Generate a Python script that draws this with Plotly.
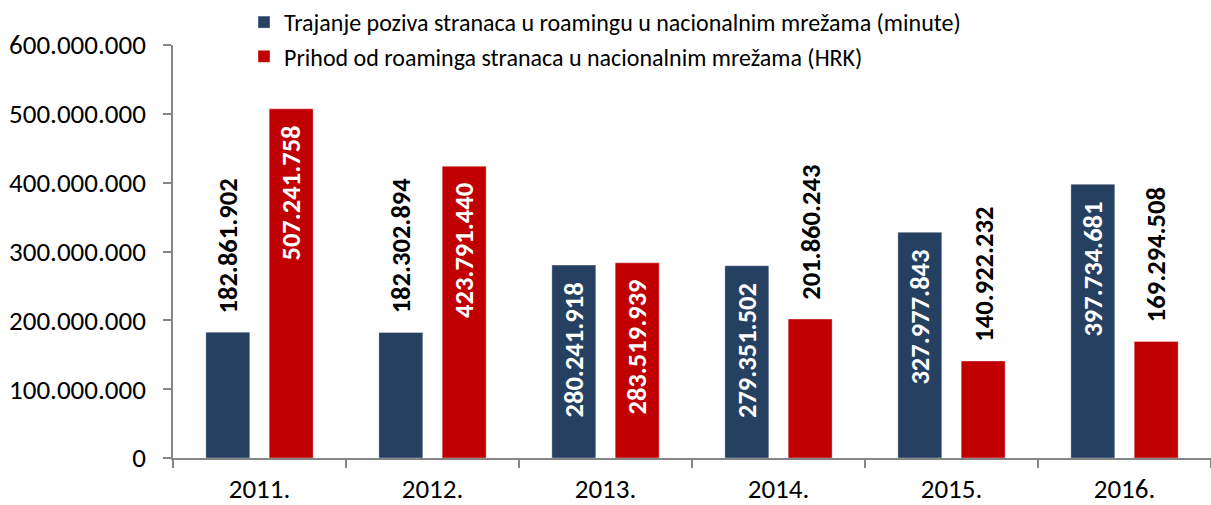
import plotly.graph_objects as go

years = ["2011.", "2012.", "2013.", "2014.", "2015.", "2016."]
minutes = [182861902, 182302894, 280241918, 279351502, 327977843, 397734681]
revenue = [507241758, 423791440, 283519939, 201860243, 140922232, 169294508]
name_minutes = "Trajanje poziva stranaca u roamingu u nacionalnim mrežama (minute)"
name_revenue = "Prihod od roaminga stranaca u nacionalnim mrežama (HRK)"
# label placement as in the original: True = inside bar (white), False = above bar (black)
inside_minutes = [False, False, True, True, True, True]
inside_revenue = [True, True, True, False, False, False]

NAVY = "#264062"
RED = "#C00000"
FONT = "Carlito, Lato, sans-serif"
BARGAP = 0.268
GROUPGAP = 0.306

def fmt(v):
    return f"{v:,}".replace(",", ".")

fig = go.Figure()
fig.add_trace(go.Bar(x=years, y=minutes, name=name_minutes, marker_color=NAVY,
                     marker_line=dict(color="rgba(255,255,255,0.35)", width=1),
                     legendgroup="a"))
fig.add_trace(go.Bar(x=years, y=revenue, name=name_revenue, marker_color=RED,
                     marker_line=dict(color="rgba(255,255,255,0.35)", width=1),
                     legendgroup="b"))

off = (1 - BARGAP) / 4
annotations = []
for series, vals, ins, sign in [(0, minutes, inside_minutes, -1), (1, revenue, inside_revenue, 1)]:
    for i, (v, inside) in enumerate(zip(vals, ins)):
        annotations.append(dict(
            x=i + sign * off, y=v, xref="x", yref="y",
            text=fmt(v), textangle=-90, showarrow=False,
            font=dict(family=FONT, size=26.5, color="white" if inside else "black", weight="bold"),
            yanchor="top" if inside else "bottom",
            yshift=-15 if inside else 17,
        ))

fig.update_layout(
    width=1211, height=505,
    margin=dict(l=173, r=0, t=45, b=47, autoexpand=False),
    paper_bgcolor="white", plot_bgcolor="white",
    barmode="group", bargap=BARGAP, bargroupgap=GROUPGAP,
    separators=",.",
    font=dict(family=FONT, size=27, color="black"),
    showlegend=True,
    legend=dict(xref="container", yref="container", x=244 / 1211, y=1.0,
                xanchor="left", yanchor="top",
                font=dict(family=FONT, size=24, color="black"),
                tracegroupgap=0, bgcolor="rgba(0,0,0,0)"),
    annotations=annotations,
)
fig.update_xaxes(type="category", showline=True, linecolor="#868686", linewidth=1.5,
                 ticks="outside", tickson="boundaries", ticklen=8, tickcolor="#868686",
                 tickwidth=1.5, showgrid=False, tickfont=dict(size=27), ticklabelstandoff=6,
                 automargin=False)
fig.update_yaxes(range=[0, 600000000], dtick=100000000, tickformat=",d",
                 showline=True, linecolor="#868686", linewidth=1.5,
                 ticks="outside", ticklen=8, tickcolor="#868686", tickwidth=1.5,
                 showgrid=False, zeroline=False, tickfont=dict(size=27),
                 ticklabelstandoff=12, automargin=False)

fig.write_html("out.html", config={"displayModeBar": False},
               post_script="document.body.style.margin='0';")
